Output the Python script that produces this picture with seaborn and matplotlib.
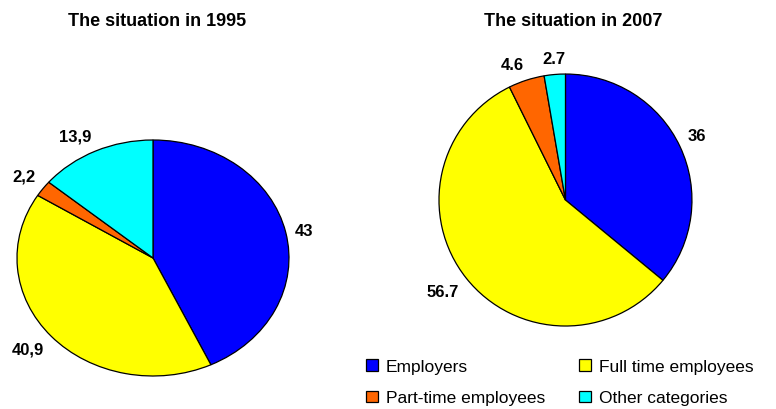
import matplotlib
import matplotlib.pyplot as plt
import numpy as np
import seaborn as sns

matplotlib.use("Agg")

# ── Data ──────────────────────────────────────────────────────────────────────
categories = ["Employers", "Full time employees", "Part-time employees", "Other categories"]
values_1995 = [43, 40.9, 2.2, 13.9]
labels_1995 = ["43", "40,9", "2,2", "13,9"]
values_2007 = [36, 56.7, 4.6, 2.7]
labels_2007 = ["36", "56.7", "4.6", "2.7"]
titles = ["The situation in 1995", "The situation in 2007"]

colors = ["#0000FF", "#FFFF00", "#FF6600", "#00FFFF"]

sns.set_theme(style="white")
plt.rcParams["font.family"] = ["Liberation Sans", "DejaVu Sans"]
plt.rcParams["text.color"] = "black"

fig = plt.figure(figsize=(7.76, 4.10), dpi=100)

# pie areas (figure fractions) - left one is squashed like the original
ax_left = fig.add_axes([0.0219, 0.0805, 0.3505, 0.5756])
ax_right = fig.add_axes([0.5657, 0.2024, 0.3260, 0.6146])


def draw_pie(ax, values, labels):
    wedges, _ = ax.pie(values, colors=colors, startangle=90, counterclock=False,
                       wedgeprops=dict(edgecolor="black", linewidth=0.9, clip_on=False))
    ax.set_aspect("auto")
    ax.set_xlim(-1, 1)
    ax.set_ylim(-1, 1)
    ax.axis("off")

    # value labels just outside each wedge
    for w, txt in zip(wedges, labels):
        ang = np.deg2rad((w.theta1 + w.theta2) / 2)
        c, s = np.cos(ang), np.sin(ang)
        ha = "left" if c > 0.1 else ("right" if c < -0.1 else "center")
        va = "bottom" if s > 0.3 else ("top" if s < -0.3 else "center")
        ax.text(1.07 * c, 1.07 * s, txt, ha=ha, va=va, fontsize=12,
                fontweight="bold", color="black")
    return wedges


wedges = draw_pie(ax_left, values_1995, labels_1995)
draw_pie(ax_right, values_2007, labels_2007)

fig.text(157.5 / 776, 1 - 22 / 410, titles[0], ha="center", va="center",
         fontsize=13, fontweight="bold")
fig.text(573 / 776, 1 - 22 / 410, titles[1], ha="center", va="center",
         fontsize=13, fontweight="bold")

# legend fills column by column, so reorder to get row order like the original
order = [0, 2, 1, 3]
fig.legend([wedges[i] for i in order], [categories[i] for i in order],
           loc="upper left", bbox_to_anchor=(366 / 776, 1 - 360 / 410),
           ncol=2, frameon=False, fontsize=12.5, handlelength=0.7, handleheight=0.64,
           handletextpad=0.45, columnspacing=1.95, labelspacing=0.95, borderaxespad=0,
           borderpad=0)

fig.savefig("out.png", dpi=100)
plt.close(fig)
